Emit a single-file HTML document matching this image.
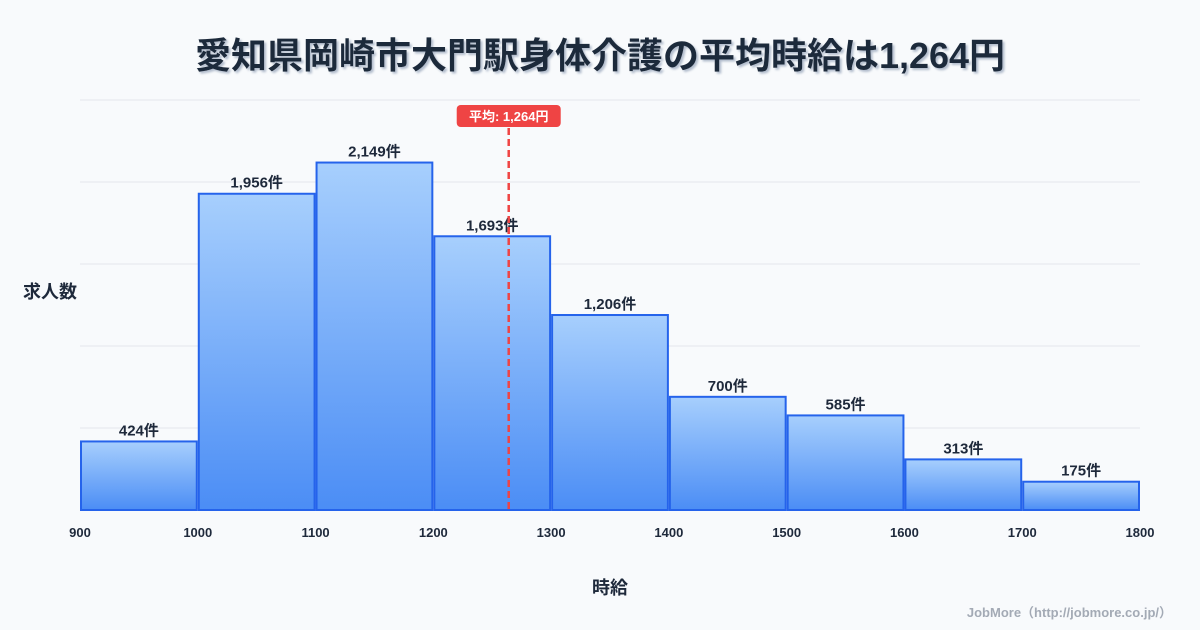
<!DOCTYPE html>
<html><head><meta charset="utf-8">
<style>
body{margin:0;background:#f8fafc;}
svg{display:block;font-family:"Liberation Sans","Noto Sans CJK JP",sans-serif;}
</style></head>
<body>
<svg id="chart" width="1200" height="630" viewBox="0 0 1200 630">
<defs>
<linearGradient id="bg" x1="0" y1="0" x2="0" y2="1">
<stop offset="0" stop-color="#a7cffd"/><stop offset="1" stop-color="#4b8df5"/>
</linearGradient>
<filter id="ts"><feDropShadow dx="2" dy="2" stdDeviation="1" flood-color="#94a3b8" flood-opacity="0.7"/></filter>
</defs>
<text x="600" y="68" text-anchor="middle" font-size="36" font-weight="bold" fill="#1e293b" filter="url(#ts)">愛知県岡崎市大門駅身体介護の平均時給は1,264円</text>
<g id="grid"></g>
<g id="bars"></g>
<g id="xticks"></g>
<text x="50" y="298" text-anchor="middle" font-size="18" font-weight="bold" fill="#1e293b">求人数</text>
<text x="610" y="594" text-anchor="middle" font-size="18" font-weight="bold" fill="#1e293b">時給</text>
<text x="1172" y="617" text-anchor="end" font-size="13" font-weight="bold" fill="#a3aab5">JobMore（http://jobmore.co.jp/）</text>
<g id="mean"></g>
</svg>
<script>
const binStarts=[900,1000,1100,1200,1300,1400,1500,1600,1700];
const counts=[424,1956,2149,1693,1206,700,585,313,175];
const countLabels=["424件","1,956件","2,149件","1,693件","1,206件","700件","585件","313件","175件"];
const xTicks=[900,1000,1100,1200,1300,1400,1500,1600,1700,1800];
const meanValue=1264;
const meanLabel="平均: 1,264円";
const NS="http://www.w3.org/2000/svg";
const X0=80,X1=1140,Y0=510,YT=100,xmin=900,xmax=1800,binW=100;
const ymax=Math.max(...counts)*1.18;
const x=v=>X0+(v-xmin)/(xmax-xmin)*(X1-X0);
const y=v=>Y0-v/ymax*(Y0-YT);
function mk(t,a,p){const e=document.createElementNS(NS,t);for(const k in a)e.setAttribute(k,a[k]);p.appendChild(e);return e;}
const grid=document.getElementById('grid');
for(let i=0;i<=5;i++){const gy=y(ymax*i/5);
const l=mk('line',{x1:X0,x2:X1,y1:gy,y2:gy,stroke:'#e5e7eb','stroke-width':1},grid);

}
const bars=document.getElementById('bars');
binStarts.forEach((b,i)=>{
const r=mk('rect',{x:x(b)+1,y:y(counts[i]),width:x(b+binW)-x(b)-2,height:Y0-y(counts[i]),fill:'url(#bg)',stroke:'#2563eb','stroke-width':2},bars);


const t=mk('text',{x:(x(b)+x(b+binW))/2,y:y(counts[i])-6,'text-anchor':'middle','font-size':15,'font-weight':'bold',fill:'#1e293b'},bars);
t.textContent=countLabels[i];

});
const xt=document.getElementById('xticks');
xTicks.forEach(v=>{const t=mk('text',{x:x(v),y:537,'text-anchor':'middle','font-size':13,'font-weight':'bold',fill:'#1e293b'},xt);
t.textContent=v;

});
const m=document.getElementById('mean');
const mx=x(meanValue);
const ml=mk('line',{x1:mx,x2:mx,y1:128,y2:Y0,stroke:'#ef4444','stroke-width':2.5,'stroke-dasharray':'7,4'},m);


const mb=mk('rect',{x:mx-52,y:105,width:104,height:22,rx:4,fill:'#ef4444'},m);


const mt=mk('text',{x:mx,y:121,'text-anchor':'middle','font-size':13,'font-weight':'bold',fill:'#fff'},m);
mt.textContent=meanLabel;


</script>
</body></html>
